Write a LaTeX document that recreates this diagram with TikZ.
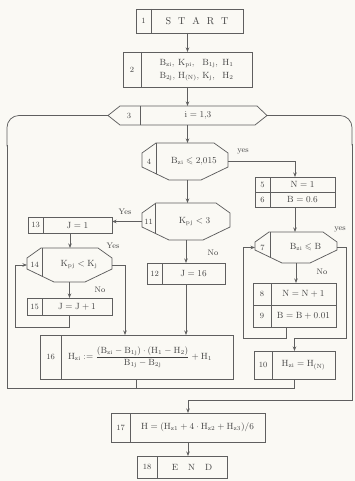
\documentclass[tikz,border=0pt]{standalone}
\usepackage{amssymb}
\usetikzlibrary{arrows.meta,fit,calc}
\definecolor{ink}{RGB}{95,95,95}
\definecolor{paper}{RGB}{250,249,244}
\definecolor{txt}{RGB}{65,65,65}
\tikzset{
  ln/.style={draw=ink, line width=0.75pt},
  arr/.style={ln, -{Stealth[length=4.5pt,width=3.5pt]}},
  lbl/.style={font=\small, text=txt, inner sep=0pt},
  tag/.style={font=\footnotesize, text=txt, inner sep=0pt},
  bbox/.style={inner sep=0pt, outer sep=0pt},
}
\newcommand\numbox[8]{%
  \node[bbox, ln, fit={(#2,#3) (#4,#5)}] (#1) {};
  \draw[ln] (#6,#3) -- (#6,#5);
  \node[tag] (#1num) at ({(#2+#6)/2},{(#3+#5)/2}) {#7};
  \node[lbl] (#1txt) at ({(#6+#4)/2},{(#3+#5)/2}) {#8};
}
\newcommand\octbox[8]{%
  \node[bbox, fit={(#2,#3) (#4,#5)}] (#1) {};
  \draw[ln] ({#2+14},#3) -- ({#4-14},#3) -- (#4,{#3+10}) -- (#4,{#5-13}) -- ({#4-27},#5) -- ({#2+27},#5) -- (#2,{#5-13}) -- (#2,{#3+10}) -- cycle;
  \begin{scope}
    \clip ({#2+14},#3) -- ({#4-14},#3) -- (#4,{#3+10}) -- (#4,{#5-13}) -- ({#4-27},#5) -- ({#2+27},#5) -- (#2,{#5-13}) -- (#2,{#3+10}) -- cycle;
    \draw[ln] (#6,#3) -- (#6,#5);
  \end{scope}
  \node[tag] (#1num) at ({(#2+#6)/2},{(#3+#5)/2}) {#7};
  \node[lbl] (#1txt) at ({(#6+#4)/2+2},{(#3+#5)/2}) {#8};
}
\begin{document}
\begin{tikzpicture}[x=1pt,y=-1pt]
\fill[paper] (0,0) rectangle (355,481);
\useasboundingbox (0,0) rectangle (355,481);

% boxes
\numbox{b1}{136}{9}{243}{33}{151}{1}{\normalsize S\hspace{7pt}T\hspace{7pt}A\hspace{7pt}R\hspace{7pt}T}
\numbox{b2}{123}{52}{252}{87}{141}{2}{\begin{tabular}{@{}l@{\,\,}l@{\,\,}l@{\,\,\,}l@{}}$\mathrm{B_{zi}}$, & $\mathrm{K_{pi}}$, & $\mathrm{B_{1j}}$, & $\mathrm{H_1}$\\[2pt] $\mathrm{B_{2j}}$, & $\mathrm{H_{(N)}}$, & $\mathrm{K_j}$, & $\mathrm{H_2}$\end{tabular}}

% hexagon 3
\node[bbox, fit={(108,106) (267,125)}] (h3) {};
\draw[ln] (108,115.5) -- (120,106) -- (257,106) -- (267,115.5) -- (255,125) -- (120,125) -- cycle;
\draw[ln] (140,106) -- (140,125);
\node[tag] (h3num) at (129,115.5) {3};
\node[lbl] (h3txt) at (198,115.5) {$\mathrm{i=1{,}3}$};

\octbox{h4}{142}{143}{228}{180}{156}{4}{$\mathrm{B_{zi}}\leqslant 2{,}015$}
\octbox{h11}{142}{203}{230}{240}{155}{11}{$\mathrm{K_{pj}}<3$}
\octbox{h14}{27}{248}{112}{282}{42}{14}{$\mathrm{K_{pj}}<\mathrm{K_j}$}
\octbox{h7}{255}{232}{337}{263}{270}{7}{$\mathrm{B_{zi}}\leqslant\mathrm{B}$}

\numbox{b5}{255}{177}{335}{192}{270}{5}{$\mathrm{N=1}$}
\numbox{b6}{255}{192}{335}{207}{270}{6}{$\mathrm{B=0.6}$}
\numbox{b8}{253}{283}{336}{305}{271}{8}{$\mathrm{N=N+1}$}
\numbox{b9}{253}{305}{336}{327}{271}{9}{$\mathrm{B=B+0.01}$}
\numbox{b10}{254}{351}{335}{379}{272}{10}{$\mathrm{H_{zi}=H_{(N)}}$}
\numbox{b12}{147}{263}{225}{284}{162}{12}{$\mathrm{J=16}$}
\numbox{b13}{28}{217}{112}{233}{43}{13}{$\mathrm{J=1}$}
\numbox{b15}{27}{298}{112}{315}{42}{15}{$\mathrm{J=J+1}$}

% box 16
\node[bbox, ln, fit={(40,335) (233,379)}] (b16) {};
\draw[ln] (61,335) -- (61,379);
\node[tag] (b16num) at (50.5,357) {16};
\node[lbl] (b16txt) at (140,357) {$\displaystyle\mathrm{H_{zi}}:=\frac{(\mathrm{B_{zi}}-\mathrm{B_{1j}})\cdot(\mathrm{H_1}-\mathrm{H_2})}{\mathrm{B_{1j}}-\mathrm{B_{2j}}}+\mathrm{H_1}$};

\numbox{b17}{111}{413}{265}{442}{130}{17}{$\mathrm{H=(H_{z1}+4\cdot H_{z2}+H_{z3})/6}$}
\numbox{b18}{137}{456}{227}{478}{157}{18}{E\hspace{10pt}N\hspace{10pt}D}

% coordinates
\coordinate (lt) at (7,115.5);
\coordinate (lb) at (7,388);
\coordinate (rt) at (352,115.5);
\coordinate (rb) at (352,400);
\coordinate (e14) at (125,265);
\coordinate (l15) at (15,327);
\coordinate (l89) at (243,338);
\coordinate (r7) at (346,338);

% connectors
\draw[arr] (b2.north |- b1.south) -- (b2.north);
\draw[arr] (b2.south) -- (b2.south |- h3.north);
\draw[arr] (h3.south) -- (h3.south |- h4.north);
\draw[arr] (h4.south -| h3.south) -- (h3.south |- h11.north);
\draw[arr] (h4.east) -| (b5.north);
\draw[arr] (b6.south) -- (b6.south |- h7.north);
\draw[arr] (h7.south) -- (h7.south |- b8.north);
\draw[arr] ($(b9.south)+(-8,0)$) |- (l89) |- (h7.west);
\draw[arr] (h7.east) -| (r7) -| (b10.north);
\draw[ln] (b10.south) |- (lb) -- ($(lt)+(0,30)$);
\draw[ln, rounded corners=12] ($(lt)+(0,31)$) -- (lt) -- (h3.west);
\draw[ln] (b16.south) -- (b16.south |- lb);
\draw[ln, rounded corners=12] (h3.east) -- (rt) -- ($(rt)+(0,30)$);
\draw[arr] ($(rt)+(0,29)$) -- (rb) -| (b17.north);
\draw[arr] (b17.south) -- (b17.south |- b18.north);

\draw[arr] (h11.west) -- (h11.west -| b13.east);
\draw[arr] (h11.south) -- (h11.south |- b12.north);
\draw[arr] (b12.south) -- (b12.south |- b16.north);
\draw[arr] (b13.south) -- (b13.south |- h14.north);
\draw[arr] (h14.south) -- (h14.south |- b15.north);
\draw[arr] (h14.east) -- (e14) -- (e14 |- b16.north);
\draw[arr] (b15.south) |- (l15) |- (h14.west);

% branch labels
\node[tag] (y4) at (243,152) {yes};
\node[tag] (y11) at (125,212) {Yes};
\node[tag] (y14) at (113,246) {Yes};
\node[tag] (y7) at (340,230) {yes};
\node[tag] (n11) at (213,253) {No};
\node[tag] (n14) at (100,290) {No};
\node[tag] (n7) at (322,272) {No};
\end{tikzpicture}
\end{document}
